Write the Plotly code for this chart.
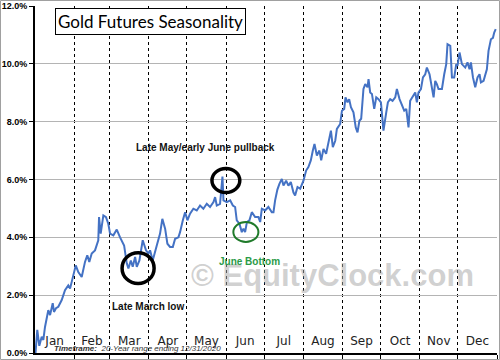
import pandas as pd
import plotly.graph_objects as go

# ---------------- data (day of year, cumulative seasonal % gain) ----------------
days = [0.4, 1.8, 3.4, 5.3, 6.6, 7.9, 10.5, 11.9, 14.0, 15.0, 16.6, 18.4, 21.1, 23.7, 26.3, 27.7, 29.0, 30.8,
        32.2, 34.2, 36.9, 39.5, 41.3, 42.9, 44.8, 47.4, 48.8, 50.0, 50.6, 51.9, 54.0, 56.1, 57.9, 59.3,
        61.9, 64.6, 67.2, 70.4, 72.5, 73.8, 75.7, 77.2, 79.1, 80.4, 82.5, 85.1, 87.7, 89.6,
        90.9, 93.0, 96.2, 98.8, 100.6, 102.8, 104.6, 106.7, 108.9, 110.7, 113.3, 114.6, 116.8, 118.6,
        120.4, 122.5, 125.1, 127.8, 130.4, 133.0, 135.7, 138.3, 141.0, 142.3, 143.6, 146.2, 148.1, 148.9,
        151.5, 154.2, 156.3, 158.1, 159.4, 161.5, 163.4, 164.7, 166.0, 167.4, 169.4, 171.3, 173.9, 176.5, 177.9, 179.2,
        181.8, 184.4, 187.1, 188.4, 189.7, 191.5, 193.1, 195.0, 196.3, 198.4, 200.2, 202.1, 204.2, 205.5, 207.4, 209.5,
        212.1, 214.2, 216.0, 217.9, 219.5, 220.8, 222.7, 224.7, 226.1, 227.9, 230.0, 231.9, 233.8, 235.3, 237.2, 238.5, 241.1,
        242.5, 244.3, 245.3, 246.9, 248.2, 249.6, 251.6, 253.4, 254.8, 256.3, 257.7, 259.5, 260.9, 262.7, 263.5, 264.8,
        266.2, 268.0, 269.6, 271.4,
        273.3, 275.3, 277.5, 278.8, 280.6, 282.5, 284.6, 285.9, 288.0, 289.9, 291.7, 293.3, 295.1, 296.4, 298.6, 300.4, 301.7,
        303.0, 304.9, 306.5, 308.3, 309.6, 311.7, 313.6, 314.9, 316.2, 317.5, 318.8, 321.5, 323.3, 324.9, 325.9, 328.1,
        329.4, 331.2,
        332.8, 333.8, 335.4, 337.3, 339.9, 341.7, 343.3, 344.4, 346.0, 347.8, 349.6, 351.2, 352.3, 354.4, 357.0, 358.3,
        360.2, 361.8, 362.8, 364.0]
gain = [0.0, 0.8, 0.25, 0.56, 0.45, 0.9, 1.48, 1.31, 1.72, 1.42, 1.55, 1.6, 1.83, 2.17, 2.34, 2.23, 2.46, 2.75,
        3.03, 2.8, 2.63, 3.15, 3.38, 3.15, 3.44, 3.55, 3.78, 3.9, 4.7, 4.13, 4.76, 4.7, 4.47, 4.13,
        4.07, 4.27, 4.0, 3.72, 3.1, 2.92, 3.2, 2.98, 3.32, 2.98, 3.2, 3.9, 3.55, 3.44,
        3.55, 3.2, 3.72, 4.13, 4.64, 4.3, 3.78, 3.67, 3.67, 3.95, 4.0, 4.18, 4.59, 4.87,
        4.59, 4.82, 4.99, 4.93, 5.1, 4.99, 5.16, 5.05, 5.22, 5.39, 5.1, 5.16, 6.1, 5.28,
        5.22, 5.28, 5.1, 5.05, 4.59, 4.47, 4.18, 4.3, 4.18, 4.53, 4.59, 4.87, 4.7, 4.7, 4.53, 4.99,
        4.93, 5.05, 4.87, 4.87, 5.28, 5.65, 5.85, 6.02, 5.79, 5.96, 5.79, 5.91, 5.55, 5.45, 5.74, 5.68,
        5.96, 6.31, 6.43, 6.66, 7.0, 7.23, 6.83, 7.0, 6.66, 7.06, 6.89, 7.34, 7.69, 7.12, 7.34, 7.75, 7.92,
        8.38, 8.44, 8.84, 8.67, 8.78, 8.5, 8.32, 7.8, 7.63, 8.03, 8.1, 9.13, 9.3, 9.19, 9.47, 9.01,
        8.96, 8.44, 8.84, 8.78,
        8.67, 7.69, 8.32, 8.67, 8.78, 8.72, 8.84, 9.13, 8.78, 8.55, 8.38, 8.44, 7.8, 8.72, 8.9, 9.01, 8.67,
        9.01, 9.13, 9.53, 9.64, 9.87, 9.64, 9.19, 8.84, 9.41, 9.3, 9.13, 9.13, 9.64, 9.99, 10.68, 10.62,
        9.53, 9.53,
        9.99, 9.93, 10.39, 9.99, 9.87, 10.05, 9.81, 10.05, 9.53, 9.19, 9.53, 9.64, 9.36, 9.41, 9.81, 10.45,
        10.85, 10.9, 11.08, 11.2]

months = ["Jan", "Feb", "Mar", "Apr", "May", "Jun", "Jul", "Aug", "Sep", "Oct", "Nov", "Dec"]
month_days = [31, 28, 31, 30, 31, 30, 31, 31, 30, 31, 30, 31]
y_ticks = [0, 2, 4, 6, 8, 10, 12]

title_text = "Gold Futures Seasonality"
note_pullback = "Late May/early June pullback"
note_march = "Late March low"
note_june = "June Bottom"
watermark = "© EquityClock.com"
timeframe = "<b>Timeframe:</b>  20-Year range ending 12/31/2020"

# month boundaries / centres derived from month lengths
month_starts = []
acc = 0
for d in month_days:
    month_starts.append(acc)
    acc += d
month_mid = [s + d / 2 for s, d in zip(month_starts, month_days)]
year_len = acc

# ---------------- figure ----------------
W, H = 500, 360
ML, MR, MT, MB = 35, 3, 6, 7
PW, PH = W - ML - MR, H - MT - MB

BLUE = "#4472C4"
GREEN_LINE = "#1f7a2a"
GREEN_TEXT = "#2a9a48"

fig = go.Figure()
fig.add_trace(go.Scatter(x=days, y=gain, mode="lines",
                         line=dict(color=BLUE, width=2), hoverinfo="skip", showlegend=False))

fig.update_layout(
    width=W, height=H,
    margin=dict(l=ML, r=MR, t=MT, b=MB, autoexpand=False),
    paper_bgcolor="white", plot_bgcolor="white",
    showlegend=False,
    font=dict(family="Liberation Sans, Arial, sans-serif", color="#000"),
)

fig.update_xaxes(
    range=[0, year_len], automargin=False,
    tickmode="array", tickvals=month_mid, ticktext=months,
    ticks="", ticklabelstandoff=-24,
    tickfont=dict(family="DejaVu Sans, Verdana, sans-serif", size=12, color="#222"),
    showgrid=False, zeroline=False,
    showline=True, linecolor="#000", linewidth=2,
    minor=dict(tickmode="array", tickvals=month_starts[1:] + [year_len],
               ticks="outside", ticklen=4, tickcolor="#000",
               showgrid=True, gridcolor="#000", griddash="dot", gridwidth=1),
)
fig.update_yaxes(
    range=[0, 12], automargin=False,
    tickmode="array", tickvals=y_ticks,
    ticktext=[f"{v:.1f}%" for v in y_ticks],
    ticks="outside", ticklen=4, tickcolor="#000",
    tickfont=dict(family="Liberation Sans, Arial, sans-serif", size=9, color="#000", weight="bold"),
    showgrid=True, gridcolor="#b4b4b4", gridwidth=1,
    zeroline=False,
    showline=True, linecolor="#000", linewidth=2,
)

# outer frame of image
fig.add_shape(type="rect", xref="paper", yref="paper",
              x0=(-ML + 0.5) / PW, x1=1 + (MR - 0.5) / PW,
              y0=(-MB + 0.5) / PH, y1=1 + (MT - 0.5) / PH,
              line=dict(color="#a0a0a0", width=1), fillcolor="rgba(0,0,0,0)", layer="below")

# highlight circles
fig.add_shape(type="circle", xref="x", yref="y", x0=68.8, x1=94.1, y0=2.40, y1=3.47,
              line=dict(color="#000", width=3.5))
fig.add_shape(type="circle", xref="x", yref="y", x0=139.8, x1=161.8, y0=5.55, y1=6.38,
              line=dict(color="#000", width=3.5))
fig.add_shape(type="circle", xref="x", yref="y", x0=156.7, x1=176.5, y0=3.84, y1=4.53,
              line=dict(color=GREEN_LINE, width=2))

# watermark
fig.add_annotation(xref="paper", yref="paper", x=(332 - ML) / PW, y=1 - (295 - MT) / PH,
                   text=watermark, showarrow=False,
                   font=dict(family="Liberation Sans, Arial, sans-serif", size=31, color="rgba(170,170,170,0.55)",
                             weight="bold"))

# title box
fig.add_annotation(xref="paper", yref="paper", x=(55 - ML) / PW, y=1 - (8 - MT) / PH,
                   xanchor="left", yanchor="top", text=title_text, showarrow=False,
                   font=dict(family="Lato, Open Sans, sans-serif", size=17, color="#000"),
                   bgcolor="white", bordercolor="#000", borderwidth=1, borderpad=2)

# notes
fig.add_annotation(x=134.8, y=7.10, xref="x", yref="y", text=f"<b>{note_pullback}</b>", showarrow=False,
                   font=dict(family="Liberation Sans, Arial, sans-serif", size=10, color="#111"))
fig.add_annotation(x=88.9, y=1.62, xref="x", yref="y", text=f"<b>{note_march}</b>", showarrow=False,
                   font=dict(family="Liberation Sans, Arial, sans-serif", size=10, color="#111"))
fig.add_annotation(x=169.7, y=3.17, xref="x", yref="y", text=f"<b>{note_june}</b>", showarrow=False,
                   font=dict(family="Liberation Sans, Arial, sans-serif", size=10, color=GREEN_TEXT))

# timeframe footnote
fig.add_annotation(xref="paper", yref="paper", x=(52 - ML) / PW, y=1 - (348 - MT) / PH,
                   xanchor="left", yanchor="middle", text=f"<i>{timeframe}</i>", showarrow=False,
                   font=dict(family="Liberation Sans, Arial, sans-serif", size=8, color="#333"))

fig.write_html("out.html", config={"displayModeBar": False},
               post_script="document.body.style.margin='0';document.body.style.overflow='hidden';")
